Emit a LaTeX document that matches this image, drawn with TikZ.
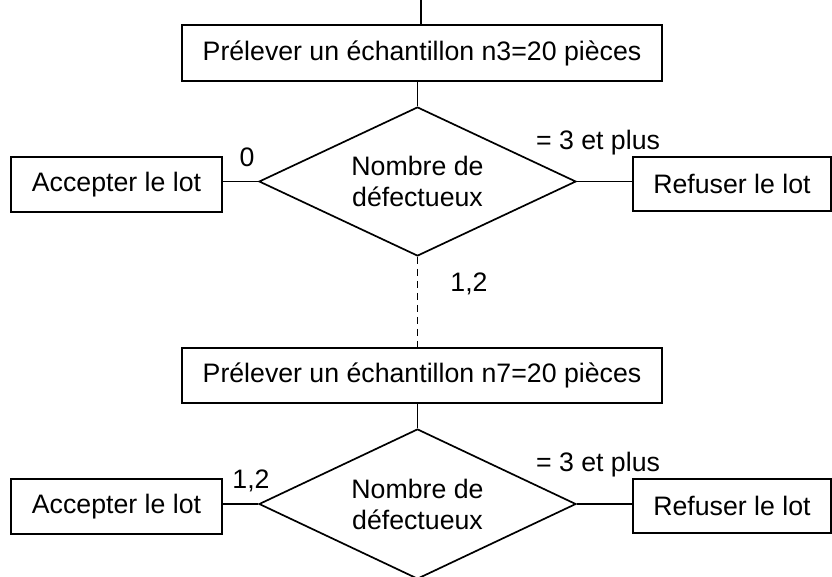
\documentclass[tikz,border=0pt]{standalone}
\usepackage{fontspec}
\setmainfont{Liberation Sans}
\usetikzlibrary{shapes.geometric,calc}

\begin{document}
\begin{tikzpicture}[x = 1pt, y = -1pt, font = \fontsize{26.7}{31}\selectfont,
    box/.style = {rectangle, draw, line width = 2pt, inner sep = 0pt, align = center},
    choice/.style = {diamond, draw, line width = 1.7pt, inner sep = 0pt, align = center, aspect = 2.13,
        minimum width = 317pt, minimum height = 149pt},
    link/.style = {line width = 1.7pt}]
    \useasboundingbox (0,0) rectangle (832,576);
    \node[box, minimum width = 480pt, minimum height = 56pt] (take1) at (422,53) {Prélever un échantillon n3=20 pièces};
    \node[choice] (count1) at (417.5,181.5) {Nombre de\\défectueux};
    \node[box, minimum width = 211pt, minimum height = 55pt] (accept1) at (116.5,184.5) {Accepter le lot};
    \node[box, minimum width = 198pt, minimum height = 54pt] (reject1) at (732,184) {Refuser le lot};
    %%%%%%%%%%
    \node[box, minimum width = 480pt, minimum height = 55pt] (take2) at (422,375.5) {Prélever un échantillon n7=20 pièces};
    \node[choice, minimum height = 150pt] (count2) at (417.5,504) {Nombre de\\défectueux};
    \node[box, minimum width = 211pt, minimum height = 55pt] (accept2) at (116.5,506.5) {Accepter le lot};
    \node[box, minimum width = 198pt, minimum height = 54pt] (reject2) at (732,506) {Refuser le lot};
    %%%%%%%%%%
    \node (zero) at (247,157) {0};
    \node (more1) at (598,143) {= 3 et plus};
    \node (again) at (469,284) {1,2};
    \node (few) at (251,481) {1,2};
    \node (more2) at (598,465) {= 3 et plus};
    %%%%%%%%%%
    \coordinate (entry) at (421,0);
    \draw[link] (entry) -- (entry |- take1.north);
    \draw[link] (count1.north |- take1.south) -- (count1.north);
    \draw[link] (count1.west) -- (count1.west -| accept1.east);
    \draw[link] (count1.east) -- (count1.east -| reject1.west);
    \draw[link, dash pattern = on 7pt off 5pt] (count1.south) -- (count1.south |- take2.north);
    \draw[link] (count2.north |- take2.south) -- (count2.north);
    \draw[link] (count2.west) -- (count2.west -| accept2.east);
    \draw[link] (count2.east) -- (count2.east -| reject2.west);
\end{tikzpicture}
\end{document}
